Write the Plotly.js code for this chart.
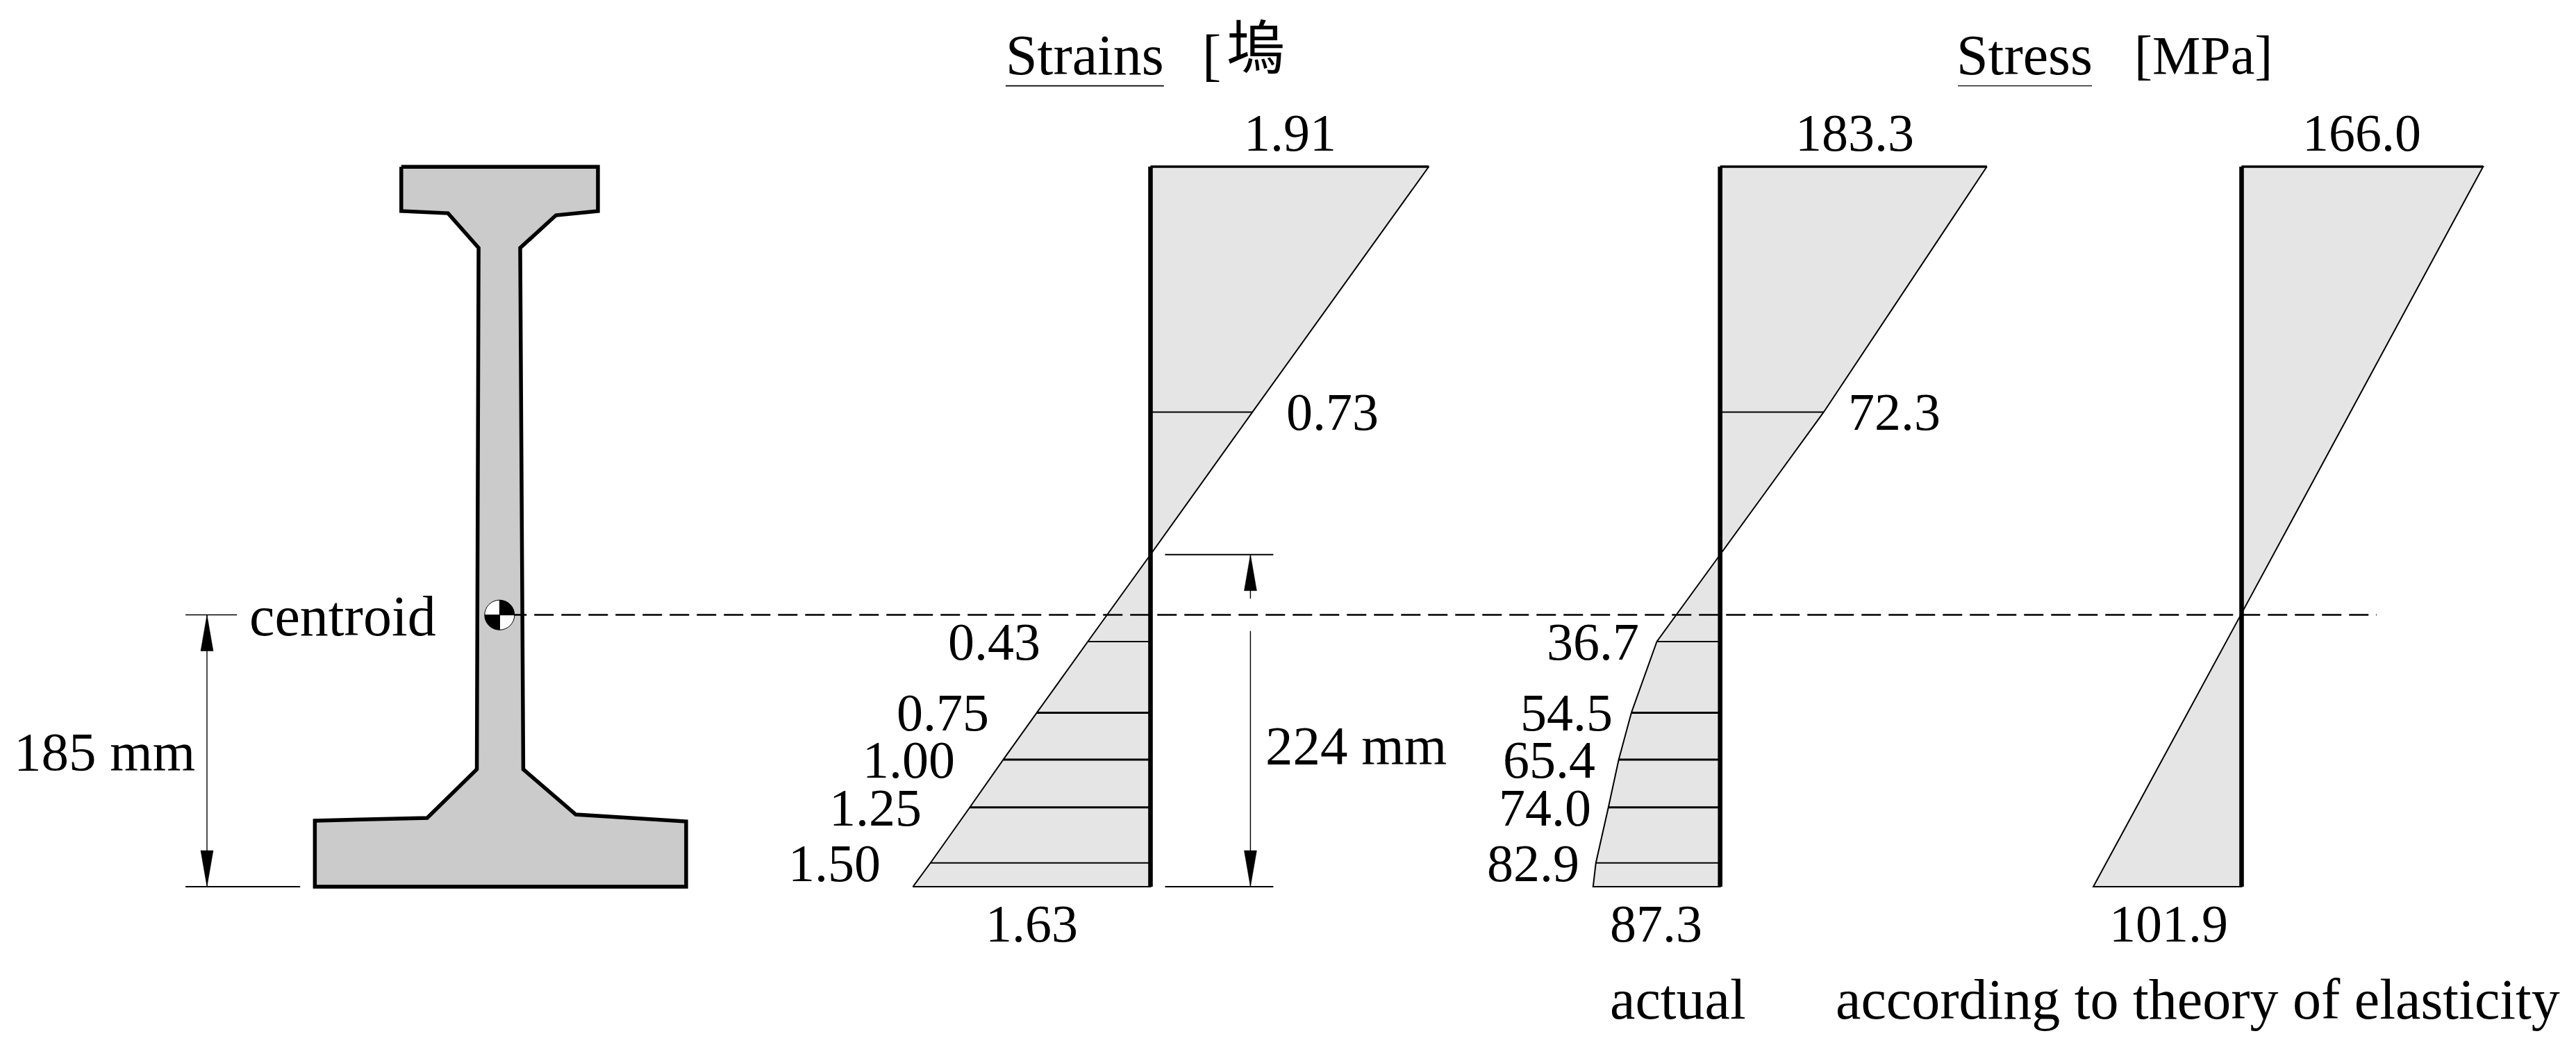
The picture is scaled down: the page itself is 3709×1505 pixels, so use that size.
<!DOCTYPE html>
<html>
<head>
<meta charset="utf-8">
<script src="https://cdn.plot.ly/plotly-3.0.1.min.js"></script>
<style>html,body{margin:0;padding:0;background:#fff;overflow:hidden}</style>
</head>
<body>
<div id="plot" style="width:3709px;height:1505px"></div>
<script>
// Section outline, mm from the base and the web centre
const sectionX = [-67.2, 66.6, 66.6, 38, 13.7, 15.8, 51.5, 126.6, 126.6, -126, -126, -49.6, -15.8, -14.6, -35.4, -67.2, -67.2];
const sectionY = [489.9, 489.9, 459.8, 456.9, 434.7, 79.9, 49.1, 44.4, 0, 0, 44.9, 46.8, 79.9, 434.7, 458.3, 459.8, 489.9];

// Heights of the measuring fibres, mm
const sectionTop = 490;
const centroidHeight = 185;
const neutralHeight = 226;
const upperFibre = 323;
const lowerFibres = [166.8, 118.4, 86.5, 54, 16.2];

// Strains, as drawn and as labelled
const strainTop = 1.91;
const strainUpper = 0.70;
const strainLower = [0.43, 0.78, 1.01, 1.24, 1.51];
const strainBottom = 1.63;
const strainTopLabel = '1.91';
const strainUpperLabel = '0.73';
const strainLowerLabels = ['0.43', '0.75', '1.00', '1.25', '1.50'];
const strainBottomLabel = '1.63';

// Actual stress, as drawn and as labelled
const stressTop = 183.3;
const stressUpper = 71.2;
const stressLower = [43.5, 61, 69.7, 76.8, 85.4];
const stressBottom = 87.3;
const stressTopLabel = '183.3';
const stressUpperLabel = '72.3';
const stressLowerLabels = ['36.7', '54.5', '65.4', '74.0', '82.9'];
const stressBottomLabel = '87.3';

// Stress according to the theory of elasticity
const elasticTop = 166.0;
const elasticBottom = 101.9;
const elasticNeutral = 186;

const W = 3709, H = 1505;
const FS = 76, WORD_FS = 82;
const pxPerMm = 2.1163, baseY = 1277;
const pxPerStrain = 209.8, pxPerMPa = 2.095;

// every x axis fills the page, only the zero and the scale differ
function pageRange(zeroPx, scale) {
    return [-zeroPx / scale, (W - zeroPx) / scale];
}
function hiddenAxis(range) {
    return { range: range, domain: [0, 1], visible: false, fixedrange: true, anchor: 'y' };
}

const traces = [];
const annotations = [];

function line(xa, x, y, width, dash) {
    traces.push({
        type: 'scatter', mode: 'lines', xaxis: xa, yaxis: 'y', x: x, y: y, hoverinfo: 'skip',
        line: { color: '#000', width: width, dash: dash || 'solid', simplify: false },
    });
}
function filled(xa, x, y, fill, width) {
    traces.push({
        type: 'scatter', mode: 'lines', xaxis: xa, yaxis: 'y', x: x, y: y, hoverinfo: 'skip',
        fill: 'toself', fillcolor: fill,
        line: { color: '#000', width: width, simplify: false },
    });
}
function label(text, xa, x, y, xshift, size) {
    annotations.push({
        text: text, xref: xa, yref: 'y', x: x, y: y, xshift: xshift || 0, showarrow: false,
        xanchor: 'center', yanchor: 'middle',
        font: { family: '"Liberation Serif", "Noto Sans CJK TC", serif', size: size || FS, color: '#000' },
    });
}
// long narrow arrowhead on a dimension line
function arrow(xa, x, tip, up, scale) {
    const hw = 9 / scale, len = (up ? -1 : 1) * 52 / pxPerMm;
    filled(xa, [x - hw, x + hw, x, x - hw], [tip + len, tip + len, tip, tip + len], '#000', 0.5);
}

// one stress or strain block with its fibres
function block(xa, x, y, fibreX, fibreY, top, bottom) {
    filled(xa, [0].concat(x, [0, 0]), [sectionTop].concat(y, [0, sectionTop]), '#e5e5e5', 2);
    fibreX.forEach((v, i) => line(xa, [0, v], [fibreY[i], fibreY[i]], i === 0 || i === 1 || i === 5 ? 2 : 3));
    line(xa, [0, top], [sectionTop, sectionTop], 3.4);
    line(xa, [0, -bottom], [0, 0], 2);
    line(xa, [0, 0], [sectionTop, 0], 6.6);
}

// cross section
filled('x', sectionX, sectionY, '#cbcbcb', 5.5);

// strain diagram
block('x2',
    [strainTop, strainUpper, 0].concat(strainLower.map(v => -v), [-strainBottom]),
    [sectionTop, upperFibre, neutralHeight].concat(lowerFibres, [0]),
    [strainUpper].concat(strainLower.map(v => -v)),
    [upperFibre].concat(lowerFibres),
    strainTop, strainBottom);

// actual stress diagram
block('x3',
    [stressTop, stressUpper, 0].concat(stressLower.map(v => -v), [-stressBottom]),
    [sectionTop, upperFibre, neutralHeight].concat(lowerFibres, [0]),
    [stressUpper].concat(stressLower.map(v => -v)),
    [upperFibre].concat(lowerFibres),
    stressTop, stressBottom);

// elastic stress diagram
block('x4', [elasticTop, 0, -elasticBottom], [sectionTop, elasticNeutral, 0], [], [], elasticTop, elasticBottom);

// centroid line, on the last axis so it runs over the blocks
line('x4', [-1192, 92.8], [centroidHeight, centroidHeight], 2.4, '28px,11px');

// 185 mm dimension
const dimX = -199.4;
line('x', [-214, -179], [centroidHeight, centroidHeight], 1.6);
line('x', [-214, -136], [0, 0], 2);
line('x', [dimX, dimX], [0, centroidHeight], 1.4);
arrow('x', dimX, centroidHeight, true, pxPerMm);
arrow('x', dimX, 0, false, pxPerMm);

// 224 mm dimension
const dim2X = 0.686;
line('x2', [0.1, 0.843], [neutralHeight, neutralHeight], 2);
line('x2', [0.1, 0.843], [0, 0], 2);
line('x2', [dim2X, dim2X], [neutralHeight, 196], 1.4);
line('x2', [dim2X, dim2X], [174, 0], 1.4);
arrow('x2', dim2X, neutralHeight, true, pxPerStrain);
arrow('x2', dim2X, 0, false, pxPerStrain);

// heading rules
line('x2', [-0.994, 0.092], [545, 545], 1.8);
line('x3', [163.4, 255.6], [545, 545], 1.4);

// text
label('Strains', 'x2', -0.45, 566, 0, WORD_FS);
label('[', 'x2', 0.42, 566, 0, WORD_FS);
label('塢', 'x2', 0.72, 570, 0, 84);
label('Stress', 'x3', 209, 566, 0, WORD_FS);
label('[MPa]', 'x3', 332, 566, 0, 78);

label(strainTopLabel, 'x2', strainTop, 513, -200);
label(stressTopLabel, 'x3', stressTop, 513, -190);
label(elasticTop.toFixed(1), 'x4', elasticTop, 513, -175);

label(strainUpperLabel, 'x2', strainUpper, upperFibre, 115);
label(stressUpperLabel, 'x3', stressUpper, upperFibre, 102);

const strainShift = [-135, -135, -136, -136, -138];
strainLowerLabels.forEach((t, i) => label(t, 'x2', -strainLower[i], lowerFibres[i], strainShift[i]));
const stressShift = [-92, -93, -100, -91, -90];
stressLowerLabels.forEach((t, i) => label(t, 'x3', -stressLower[i], lowerFibres[i], stressShift[i]));

label(strainBottomLabel, 'x2', -strainBottom, -25, 171);
label(stressBottomLabel, 'x3', -stressBottom, -25, 91);
label(elasticBottom.toFixed(1), 'x4', -elasticBottom, -25, 108);

label('centroid', 'x', -107, 184, 0, WORD_FS);
label('185 mm', 'x', -269, 92, 0, 79);
label('224 mm', 'x2', 1.413, 96, 0, 79);
label('actual', 'x3', -29, -77, 0, WORD_FS);
label('according to theory of elasticity', 'x4', -30, -77, 0, WORD_FS);

// centroid mark
const markR = 21.5, markX = 719.3, markY = 885.7;
traces.push({
    type: 'pie', values: [1, 1, 1, 1], sort: false, direction: 'clockwise', rotation: 0,
    textinfo: 'none', hoverinfo: 'skip', showlegend: false,
    marker: { colors: ['#000', '#fff', '#000', '#fff'], line: { color: '#000', width: 1 } },
    domain: { x: [(markX - markR) / W, (markX + markR) / W], y: [1 - (markY + markR) / H, 1 - (markY - markR) / H] },
});

const layout = {
    width: W, height: H,
    margin: { l: 0, r: 0, t: 0, b: 0, pad: 0 },
    showlegend: false,
    paper_bgcolor: '#fff', plot_bgcolor: '#fff',
    xaxis: hiddenAxis(pageRange(720, pxPerMm)),
    xaxis2: Object.assign(hiddenAxis(pageRange(1656.5, pxPerStrain)), { overlaying: 'x' }),
    xaxis3: Object.assign(hiddenAxis(pageRange(2476.7, pxPerMPa)), { overlaying: 'x' }),
    xaxis4: Object.assign(hiddenAxis(pageRange(3227.5, pxPerMPa)), { overlaying: 'x' }),
    yaxis: { range: [-(H - baseY) / pxPerMm, baseY / pxPerMm], domain: [0, 1], visible: false, fixedrange: true, anchor: 'x' },
    annotations: annotations,
};

Plotly.newPlot('plot', traces, layout, { staticPlot: true, displayModeBar: false });
</script>
</body>
</html>
